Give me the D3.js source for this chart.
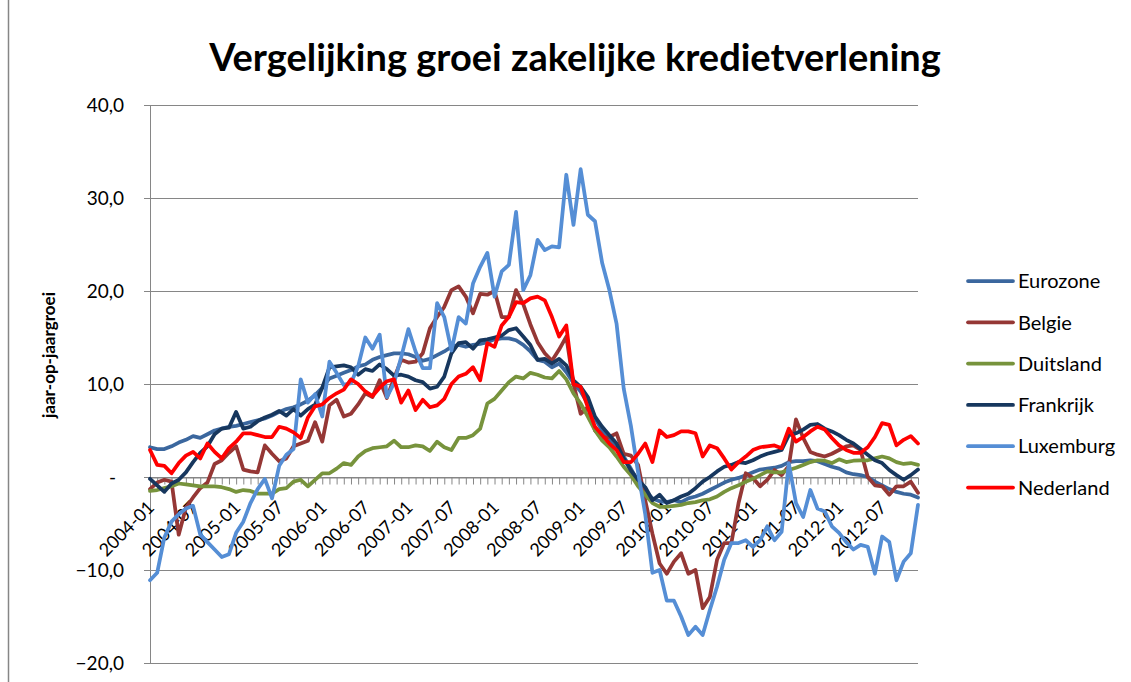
<!DOCTYPE html>
<html>
<head>
<meta charset="utf-8">
<script src="https://cdn.jsdelivr.net/npm/d3@7/dist/d3.min.js"></script>
<style>
  body { margin: 0; background: #fff; }
  text { font-family: Lato, "Open Sans", sans-serif; fill: #000; }
</style>
</head>
<body>
<div id="chart"></div>
<script>
// categories: monthly, 2004-01 .. 2012-12
const years = [2004, 2005, 2006, 2007, 2008, 2009, 2010, 2011, 2012]
const monthNums = ["01","02","03","04","05","06","07","08","09","10","11","12"]
const months = []
years.forEach(y => monthNums.forEach(m => months.push(`${y}-${m}`)))

const yTicks = [-20, -10, 0, 10, 20, 30, 40]

const seriesNames = ["Eurozone", "Belgie", "Duitsland", "Frankrijk", "Luxemburg", "Nederland"]
const seriesColors = ["#3B679E", "#953735", "#77933C", "#17375E", "#558ED5", "#FF0000"]

const eurozone = [3.2,3.0,3.0,3.3,3.7,4.0,4.4,4.2,4.6,5.0,
  5.2,5.4,5.5,5.7,5.9,6.1,6.3,6.6,7.0,7.3,
  7.5,7.8,8.2,8.8,9.6,10.6,10.9,11.2,11.5,11.9,
  12.1,12.6,12.9,13.1,13.3,13.3,13.2,12.9,12.5,12.7,
  13.1,13.5,14.0,14.2,14.0,14.2,14.3,14.5,14.8,14.9,
  14.9,14.7,14.2,13.5,12.6,12.4,11.8,12.2,11.3,10.1,
  9.2,7.9,6.3,5.0,4.0,3.0,2.2,0.9,-0.5,-1.5,
  -2.3,-2.6,-2.7,-2.5,-2.7,-2.3,-2.1,-1.8,-1.4,-1.0,
  -0.6,-0.3,-0.1,0.2,0.5,0.8,0.9,1.0,1.2,1.6,
  1.7,1.7,1.8,1.7,1.4,1.1,0.9,0.5,0.3,0.2,
  0.0,-0.5,-0.9,-1.3,-1.6,-1.8,-1.9,-2.2]

const belgie = [-1.3,-0.6,-0.3,-0.5,-6.2,-3.3,-2.2,-1.2,-0.6,1.4,
  1.8,2.6,3.3,0.8,0.6,0.5,3.4,2.5,1.7,2.0,
  3.3,3.6,3.9,5.9,3.8,7.7,8.3,6.5,6.8,7.8,
  9.0,8.6,10.4,8.5,10.6,12.6,12.3,12.4,13.3,16.0,
  17.2,18.3,20.1,20.5,19.4,17.6,19.7,19.6,20.0,17.2,
  17.2,20.1,18.6,16.4,14.5,13.3,12.5,13.7,15.1,10.0,
  6.8,7.5,5.0,4.2,4.3,4.7,2.5,2.3,1.3,-2.5,
  -6.1,-9.3,-10.4,-9.1,-8.2,-10.4,-10.0,-14.1,-12.9,-8.9,
  -7.1,-7.1,-2.8,0.4,-0.1,-1.0,-0.3,0.75,0.2,1.2,
  6.2,4.2,2.7,2.4,2.2,2.5,2.9,3.3,3.4,2.9,
  0.0,-0.9,-1.0,-1.9,-1.0,-1.0,-0.5,-1.7]

const duitsland = [-1.5,-1.4,-1.2,-1.0,-0.7,-0.8,-0.9,-1.0,-1.0,-1.0,
  -1.1,-1.3,-1.6,-1.4,-1.5,-1.8,-1.8,-1.8,-1.3,-1.2,
  -0.5,-0.3,-1.0,-0.3,0.4,0.4,0.9,1.5,1.3,2.2,
  2.8,3.1,3.2,3.3,3.9,3.2,3.2,3.4,3.3,2.8,
  3.8,3.2,2.9,4.2,4.2,4.5,5.2,7.9,8.4,9.3,
  10.2,10.8,10.6,11.2,11.0,10.7,10.6,11.4,10.5,9.0,
  7.9,6.5,5.0,3.9,3.2,2.2,1.1,0.2,-1.0,-1.9,
  -2.8,-3.2,-3.2,-3.1,-3.0,-2.8,-2.7,-2.5,-2.4,-2.1,
  -1.6,-1.2,-0.9,-0.5,-0.2,0.2,0.6,0.5,0.5,0.75,
  1.0,1.3,1.6,1.8,1.75,1.5,1.9,1.6,1.75,1.8,
  1.8,2.0,2.2,2.0,1.6,1.4,1.5,1.3]

const frankrijk = [-0.2,-0.9,-1.6,-0.7,-0.3,0.5,1.6,2.6,3.3,4.6,
  5.2,5.3,7.0,5.2,5.4,6.0,6.4,6.7,7.1,6.6,
  7.3,6.6,7.3,7.8,9.6,11.8,11.9,12.0,11.8,11.0,
  11.6,11.4,12.1,11.6,10.9,11.0,10.8,10.4,10.2,9.5,
  9.7,10.8,13.3,14.4,14.5,13.8,14.7,14.8,15.0,15.2,
  15.8,16.0,15.1,14.2,12.6,12.7,12.2,12.7,12.0,10.4,
  9.7,8.6,6.5,5.4,4.5,3.6,2.0,0.7,-0.3,-1.1,
  -2.5,-1.9,-2.8,-2.5,-2.1,-1.8,-1.2,-0.5,0.0,0.6,
  1.1,1.3,1.6,1.5,1.8,2.2,2.5,2.7,2.9,4.5,
  4.7,5.1,5.6,5.7,5.2,4.9,4.5,4.0,3.6,3.0,
  2.4,1.8,1.5,0.75,0.2,-0.3,0.2,0.8]

const luxemburg = [-11.1,-10.3,-6.5,-4.8,-4.0,-3.4,-3.1,-6.2,-7.0,-7.8,
  -8.6,-8.3,-6.0,-4.8,-2.8,-1.3,-0.2,-2.3,1.2,2.4,
  3.0,10.5,8.0,8.9,6.5,12.4,11.2,9.9,10.1,11.9,
  15.0,13.8,15.3,8.6,10.1,12.9,15.9,13.5,11.7,11.7,
  18.7,17.2,13.6,17.2,16.5,20.8,22.6,24.1,19.4,22.1,
  22.8,28.5,20.1,21.7,25.5,24.4,24.8,24.7,32.5,27.1,
  33.1,28.2,27.5,23.0,20.1,16.5,9.5,5.5,0.5,-4.0,
  -10.3,-10.0,-13.3,-13.3,-15.0,-17.0,-16.1,-17.0,-14.3,-11.8,
  -8.9,-7.1,-7.1,-6.8,-7.5,-6.8,-5.3,-6.8,-5.9,1.5,
  -2.8,-4.3,-1.4,-3.4,-3.7,-5.3,-6.0,-7.0,-7.8,-7.3,
  -7.5,-10.4,-6.4,-7.0,-11.1,-9.1,-8.2,-3.0]

const nederland = [2.9,1.3,1.2,0.4,1.5,2.3,2.7,2.0,3.6,2.7,
  2.0,3.1,3.8,4.7,4.7,4.5,4.3,4.3,5.4,5.2,
  4.8,4.2,6.4,7.6,7.8,8.5,9.0,9.4,10.5,10.0,
  9.2,8.7,9.6,10.3,10.5,8.0,9.3,7.2,8.3,7.5,
  7.7,8.4,10.0,10.8,11.1,11.8,10.4,14.4,14.0,16.3,
  17.2,18.8,18.7,19.2,19.4,19.0,17.2,15.1,16.3,10.0,
  9.7,7.5,5.4,4.5,3.6,2.9,1.6,1.6,2.5,3.6,
  1.6,5.0,4.3,4.5,4.9,4.9,4.7,2.2,3.4,3.1,
  2.0,0.8,1.6,2.2,2.9,3.2,3.3,3.4,3.1,5.2,
  3.8,4.3,4.9,5.4,5.1,4.2,3.4,2.9,2.6,2.6,
  3.2,4.3,5.8,5.6,3.4,4.0,4.4,3.6]

const seriesValues = [eurozone, belgie, duitsland, frankrijk, luxemburg, nederland]

// layout
const W = 1131, H = 682
const margin = {top: 105, right: 213, bottom: 19, left: 150}
const width = W - margin.left - margin.right,
      height = H - margin.top - margin.bottom

const svg = d3.select("#chart")
  .append("svg")
  .attr("width", W)
  .attr("height", H)

// chart frame
svg.append("line")
  .attr("x1", 8.5).attr("x2", 8.5)
  .attr("y1", 0).attr("y2", H)
  .attr("stroke", "#868686")
  .attr("stroke-width", 1.5)

svg.append("text")
  .attr("x", 575)
  .attr("y", 71)
  .attr("text-anchor", "middle")
  .attr("font-size", "38px")
  .attr("font-weight", "bold")
  .text("Vergelijking groei zakelijke kredietverlening")

const g = svg.append("g")
  .attr("transform", `translate(${margin.left},${margin.top})`)

const x = d3.scalePoint()
  .domain(months)
  .range([0, width])

const y = d3.scaleLinear()
  .domain([-20, 40])
  .range([height, 0])

// y axis + gridlines
const yAxis = g.append("g")
  .attr("class", "y-axis")
  .call(d3.axisLeft(y)
    .tickValues(yTicks)
    .tickSize(0)
    .tickPadding(26)
    .tickFormat(d => d === 0 ? "-" : d3.format(".1f")(d).replace(".", ",")))
yAxis.select(".domain").remove()
yAxis.selectAll("text")
  .attr("font-size", "19px")
  .attr("fill", "#000")
  .attr("dx", d => d === 0 ? "-8" : null)
yAxis.selectAll(".tick line").remove()

g.append("g")
  .selectAll("line")
  .data(yTicks)
  .join("line")
  .attr("x1", -6)
  .attr("x2", width)
  .attr("y1", d => Math.round(y(d)) + 0.5)
  .attr("y2", d => Math.round(y(d)) + 0.5)
  .attr("stroke", "#868686")
  .attr("stroke-width", 1)

g.append("line")
  .attr("x1", 0.5).attr("x2", 0.5)
  .attr("y1", 0).attr("y2", height)
  .attr("stroke", "#868686")

// x axis at zero
const xAxis = g.append("g")
  .attr("transform", `translate(0,${Math.round(y(0)) + 0.5})`)
  .call(d3.axisBottom(x)
    .tickSize(7)
    .tickFormat((d, i) => i % 6 === 0 ? d : ""))
xAxis.select(".domain").attr("stroke", "#868686")
xAxis.selectAll(".tick line").attr("stroke", "#868686")
xAxis.selectAll("text")
  .attr("y", null)
  .attr("dy", null)
  .attr("text-anchor", "end")
  .attr("font-size", "18px")
  .attr("fill", "#000")
  .attr("transform", "translate(5,31) rotate(-45)")

// y axis title
svg.append("text")
  .attr("transform", "translate(55,355) rotate(-90)")
  .attr("text-anchor", "middle")
  .attr("font-size", "17px")
  .attr("font-weight", "bold")
  .text("jaar-op-jaargroei")

// lines
const line = d3.line()
  .x((d, i) => x(months[i]))
  .y(d => y(d))

g.append("g")
  .selectAll("path")
  .data(seriesValues)
  .join("path")
  .attr("d", d => line(d))
  .attr("fill", "none")
  .attr("stroke", (d, i) => seriesColors[i])
  .attr("stroke-width", 3.75)
  .attr("stroke-linejoin", "round")
  .attr("stroke-linecap", "round")

// legend
const legend = svg.append("g")
  .selectAll("g")
  .data(seriesNames)
  .join("g")
  .attr("transform", (d, i) => `translate(968,${281 + i * 41.3})`)

legend.append("line")
  .attr("x1", 0).attr("x2", 45)
  .attr("stroke", (d, i) => seriesColors[i])
  .attr("stroke-width", 3.75)
  .attr("stroke-linecap", "round")

legend.append("text")
  .attr("x", 50)
  .attr("dy", "0.36em")
  .attr("font-size", "20px")
  .text(d => d)
</script>
</body>
</html>
